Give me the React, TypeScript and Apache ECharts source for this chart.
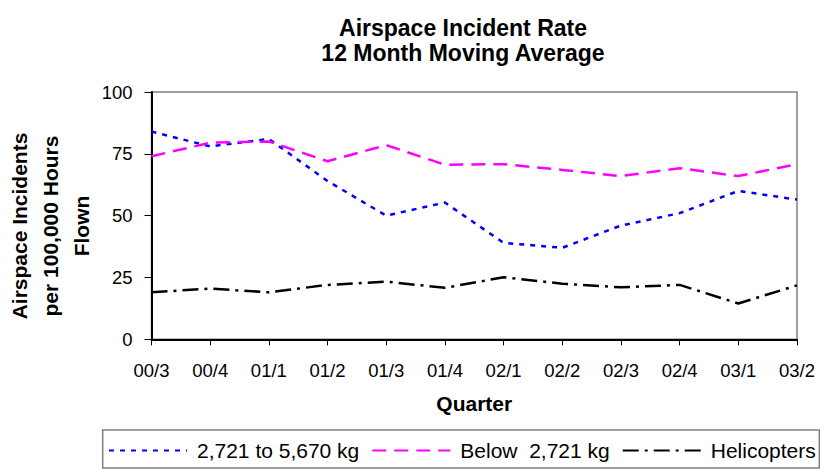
import React, { useEffect, useRef } from "react";
import * as echarts from "echarts";

const quarters = ["00/3", "00/4", "01/1", "01/2", "01/3", "01/4", "02/1", "02/2", "02/3", "02/4", "03/1", "03/2"];
const mediumAircraft = [84, 78, 81, 64, 50, 55.3, 39, 37, 46, 51, 60, 56.5];
const lightAircraft = [74, 79.5, 80, 72, 78.5, 70.6, 70.8, 68.5, 66, 69.2, 66, 70.8];
const helicopters = [19, 20.5, 19, 22, 23.3, 20.8, 25.1, 22.5, 21, 22, 14.5, 21.8];
const yTicks = { min: 0, max: 100, interval: 25 };

const FONT = "'Liberation Sans', Arial, sans-serif";

export default function App() {
  const ref = useRef<HTMLDivElement>(null);
  useEffect(() => {
    document.body.style.margin = "0";
    if (!ref.current) return;
    const chart = echarts.init(ref.current, null, { renderer: "svg" });
    chart.setOption({
      animation: false,
      textStyle: { fontFamily: FONT, color: "#000" },
      grid: { left: 151.5, right: 27, top: 92, bottom: 132.7, show: true, borderColor: "#808080", borderWidth: 1.5, backgroundColor: "transparent" },
      xAxis: {
        type: "category",
        data: quarters,
        boundaryGap: false,
        name: "Quarter",
        nameLocation: "middle",
        nameGap: 54,
        nameTextStyle: { fontFamily: FONT, fontSize: 21, fontWeight: "bold", color: "#000" },
        axisLine: { lineStyle: { color: "#000", width: 2 } },
        axisTick: { show: true, length: 6, lineStyle: { color: "#000", width: 1 } },
        axisLabel: { fontFamily: FONT, fontSize: 18.5, color: "#000", margin: 22, interval: 0 },
        splitLine: { show: false },
      },
      yAxis: {
        type: "value",
        min: yTicks.min,
        max: yTicks.max,
        interval: yTicks.interval,
        axisLine: { show: true, lineStyle: { color: "#000", width: 2 } },
        axisTick: { show: true, length: 7, lineStyle: { color: "#000", width: 1 } },
        axisLabel: { fontFamily: FONT, fontSize: 18.5, color: "#000", margin: 19 },
        splitLine: { show: false },
      },
      legend: {
        left: 108,
        top: 440,
        padding: 0,
        itemWidth: 78,
        itemHeight: 20,
        itemGap: 12,
        itemStyle: { opacity: 0, borderWidth: 0 },
        textStyle: { fontFamily: FONT, fontSize: 21, color: "#000", padding: [0, 0, 0, 5] },
        data: ["2,721 to 5,670 kg", "Below  2,721 kg", "Helicopters"],
      },
      graphic: [
        {
          type: "text",
          x: 463,
          y: 15,
          style: {
            text: "Airspace Incident Rate\n12 Month Moving Average",
            fontFamily: FONT,
            fontSize: 23,
            fontWeight: "bold",
            lineHeight: 25,
            fill: "#000",
            textAlign: "center",
            textVerticalAlign: "top",
          },
        },
        {
          type: "text",
          x: 50,
          y: 226,
          rotation: Math.PI / 2,
          style: {
            text: "Airspace Incidents\nper 100,000 Hours\nFlown",
            fontFamily: FONT,
            fontSize: 21,
            fontWeight: "bold",
            lineHeight: 31,
            fill: "#000",
            textAlign: "center",
            textVerticalAlign: "middle",
          },
        },
        {
          type: "rect",
          shape: { x: 102.7, y: 430, width: 716.6, height: 38 },
          style: { fill: "none", stroke: "#808080", lineWidth: 1.5 },
          silent: true,
        },
      ],
      series: [
        {
          name: "2,721 to 5,670 kg",
          type: "line",
          data: mediumAircraft,
          symbol: "none",
          lineStyle: { color: "#0000FF", width: 2.5, type: [5, 6] },
          itemStyle: { color: "#0000FF" },
        },
        {
          name: "Below  2,721 kg",
          type: "line",
          data: lightAircraft,
          symbol: "none",
          lineStyle: { color: "#FF00FF", width: 2.5, type: [14, 8] },
          itemStyle: { color: "#FF00FF" },
        },
        {
          name: "Helicopters",
          type: "line",
          data: helicopters,
          symbol: "none",
          lineStyle: { color: "#000000", width: 2.5, type: [16, 6, 3, 6] },
          itemStyle: { color: "#000000" },
        },
      ],
    });
    return () => chart.dispose();
  }, []);
  return <div ref={ref} style={{ width: 824, height: 472 }} />;
}
